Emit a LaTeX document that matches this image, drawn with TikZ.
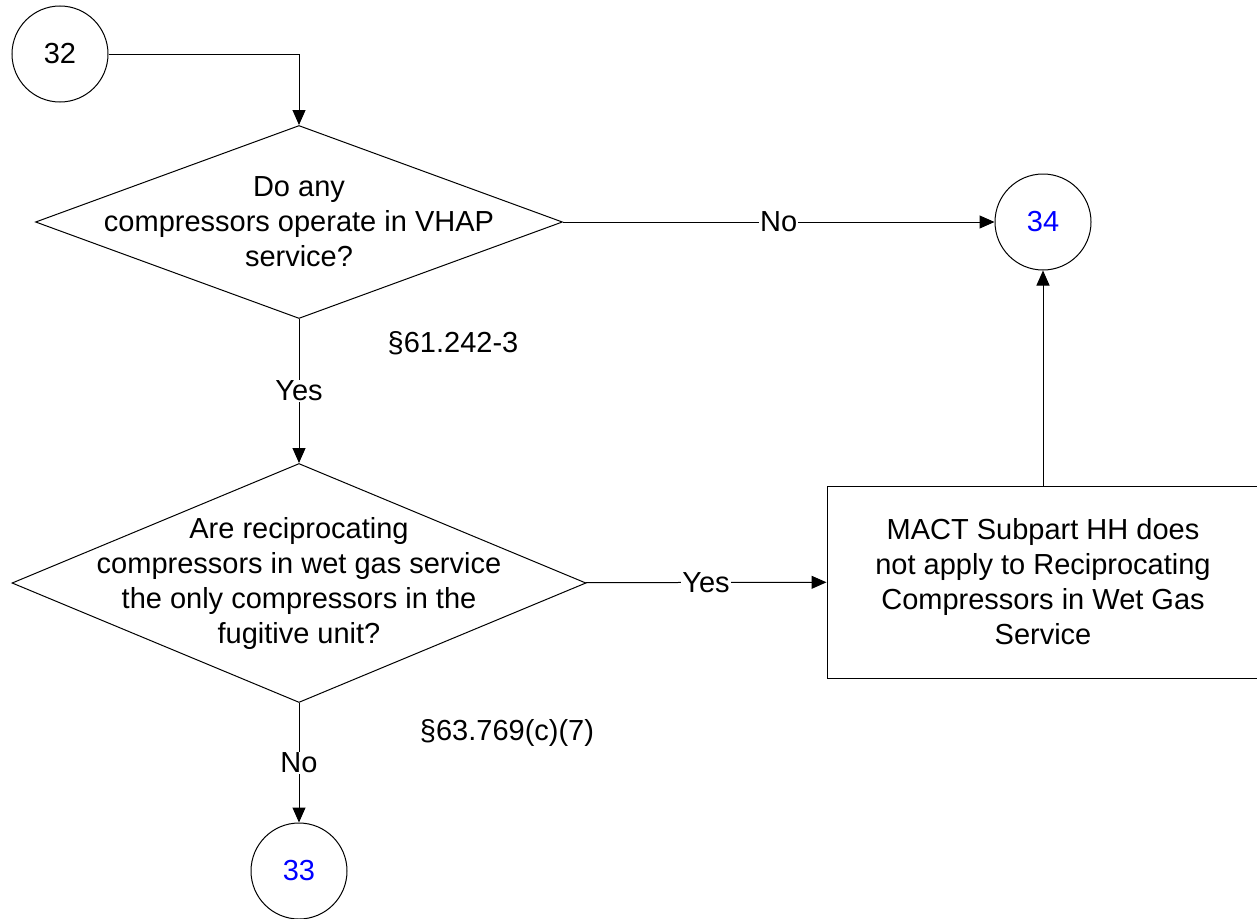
\documentclass[tikz,border=0pt]{standalone}
\usepackage{fontspec}
\setmainfont{Liberation Sans}
\usetikzlibrary{arrows.meta,shapes.geometric}

\tikzset{
  conn/.style={circle,draw,minimum size=96pt,inner sep=0pt},
  decision/.style={diamond,draw,inner sep=0pt},
  txt/.style={align=center,inner sep=0pt},
  arr/.style={-{Triangle[length=15pt,width=13pt]}},
  lbl/.style={fill=white,inner sep=1pt}
}

\begin{document}
\begin{tikzpicture}[x=1pt,y=-1pt,line width=1pt,font=\fontsize{29}{35}\selectfont]
\useasboundingbox (0,0) rectangle (1257,918);

\node[conn] (c32) at (60,54) {32};
\node[conn,text=blue] (c34) at (1043,222) {34};
\node[conn,text=blue] (c33) at (299,871) {33};

\node[decision,minimum width=527pt,minimum height=193pt] (q1) at (299,222) {};
\node[txt] (q1t) at (q1) {Do any\\compressors operate in VHAP\\service?};
\node[decision,minimum width=574pt,minimum height=239pt] (q2) at (299,583) {};
\node[txt] (q2t) at (q2) {Are reciprocating\\compressors in wet gas service\\the only compressors in the\\fugitive unit?};

\node[draw,txt,minimum width=432pt,minimum height=192pt] (res) at (1043,582)
  {MACT Subpart HH does\\not apply to Reciprocating\\Compressors in Wet Gas\\Service};

\node[] (ref1) at (453,343) {\S61.242-3};
\node[] (ref2) at (507,733) {\S63.769(c)(7)};

\draw[arr] (c32) -| (q1);
\draw[arr] (q1) -- node[lbl] {No} (c34);
\draw[arr] (q1) -- node[lbl] {Yes} (q2);
\draw[arr] (q2) -- node[lbl] {Yes} (res);
\draw[arr] (q2) -- node[lbl] {No} (c33);
\draw[arr] (res) -- (c34);

\end{tikzpicture}
\end{document}
